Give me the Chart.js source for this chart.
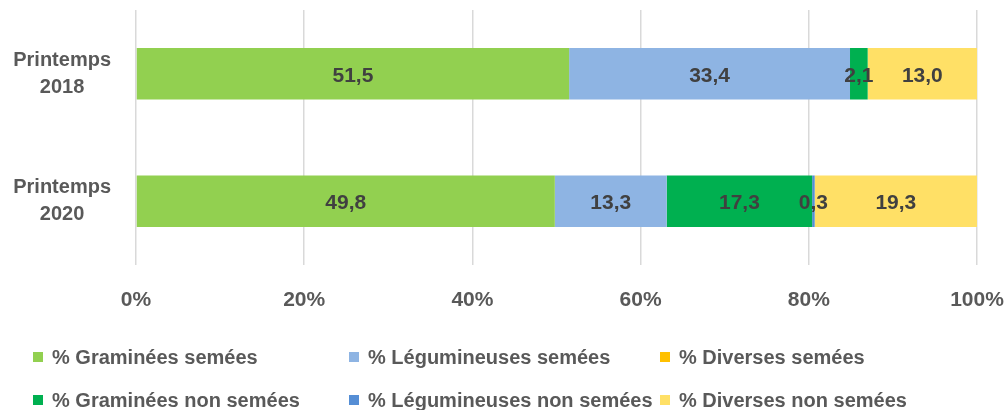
<!DOCTYPE html>
<html>
<head>
<meta charset="utf-8">
<script src="https://cdn.jsdelivr.net/npm/chart.js@4"></script>
<style>
  html, body { margin: 0; padding: 0; background: #fff; }
  #wrap { position: relative; width: 1008px; height: 410px; overflow: hidden; }
  #chartBox { position: absolute; left: 0; top: 0; width: 1008px; height: 330px; }
  #legend { position: absolute; left: 0; top: 0; width: 1008px; height: 410px; pointer-events: none;
    font-family: "Liberation Sans", Arial, sans-serif; font-weight: bold; font-size: 20px; color: #595959; }
  .li { position: absolute; white-space: nowrap; line-height: 20px; }
  .li .bx { position: absolute; width: 10px; height: 10px; top: 5px; }
  .li .tx { position: absolute; top: 0; }
</style>
</head>
<body>
<div id="wrap">
  <div id="chartBox"><canvas id="c"></canvas></div>
  <div id="legend"></div>
</div>
<script>
const categories = [["Printemps", "2018"], ["Printemps", "2020"]];
const seriesNames = [
  "% Graminées semées",
  "% Légumineuses semées",
  "% Diverses semées",
  "% Graminées non semées",
  "% Légumineuses non semées",
  "% Diverses non semées"
];
const graminesSemees = [51.5, 49.8];
const legumineusesSemees = [33.4, 13.3];
const diversesSemees = [0, 0];
const graminesNonSemees = [2.1, 17.3];
const legumineusesNonSemees = [0, 0.3];
const diversesNonSemees = [13.0, 19.3];
const tickValues = [0, 20, 40, 60, 80, 100];

const seriesValues = [graminesSemees, legumineusesSemees, diversesSemees, graminesNonSemees, legumineusesNonSemees, diversesNonSemees];
const colors = ["#92D050", "#8EB4E3", "#FFC000", "#00B050", "#558ED5", "#FFE066"];

const datasets = seriesNames.map((n, i) => ({
  label: n,
  data: seriesValues[i],
  backgroundColor: colors[i],
  borderWidth: 0,
  categoryPercentage: 1.0,
  barPercentage: 0.404
}));

const labelPlugin = {
  id: 'segLabels',
  afterDatasetsDraw(chart) {
    const ctx = chart.ctx;
    ctx.save();
    ctx.font = 'bold 21px "Liberation Sans", Arial, sans-serif';
    ctx.fillStyle = '#404040';
    ctx.textAlign = 'center';
    ctx.textBaseline = 'middle';
    chart.data.datasets.forEach((ds, di) => {
      const meta = chart.getDatasetMeta(di);
      meta.data.forEach((el, j) => {
        const v = ds.data[j];
        if (!v) return;
        const p = el.getProps(['x', 'y', 'base'], true);
        const cx = (p.x + p.base) / 2;
        ctx.fillText(v.toFixed(1).replace('.', ','), cx, p.y + 2);
      });
    });
    ctx.restore();
  }
};

new Chart(document.getElementById('c'), {
  type: 'bar',
  data: { labels: categories, datasets },
  plugins: [labelPlugin],
  options: {
    indexAxis: 'y',
    responsive: true,
    maintainAspectRatio: false,
    animation: false,
    layout: { padding: { left: 0, right: 31, top: 10, bottom: 0 } },
    plugins: { legend: { display: false }, tooltip: { enabled: false } },
    scales: {
      x: {
        stacked: true,
        min: 0, max: 100,
        afterBuildTicks(scale) { scale.ticks = tickValues.map(v => ({ value: v })); },
        afterFit(scale) { scale.height = 65; scale.paddingLeft = 0; scale.paddingRight = 0; },
        grid: { color: '#D9D9D9', lineWidth: 1.5, drawTicks: false },
        border: { display: false },
        ticks: {
          padding: 23,
          color: '#595959',
          font: { family: '"Liberation Sans", Arial, sans-serif', size: 21, weight: 'bold' },
          callback: v => v + '%'
        }
      },
      y: {
        stacked: true,
        afterFit(scale) { scale.width = 136; scale.paddingTop = 0; scale.paddingBottom = 0; },
        grid: { display: false, drawTicks: false },
        border: { display: false },
        ticks: {
          crossAlign: 'center',
          padding: 25,
          color: '#595959',
          font: { family: '"Liberation Sans", Arial, sans-serif', size: 20, weight: 'bold', lineHeight: 1.35 }
        }
      }
    }
  }
});

// legend built from series names & colours
const legendPos = [
  [33, 347], [349, 347], [660, 347],
  [33, 390], [349, 390], [660, 390]
];
const lg = document.getElementById('legend');
seriesNames.forEach((n, i) => {
  const d = document.createElement('div');
  d.className = 'li';
  d.style.left = legendPos[i][0] + 'px';
  d.style.top = legendPos[i][1] + 'px';
  const b = document.createElement('span');
  b.className = 'bx';
  b.style.left = '0px';
  b.style.background = colors[i];
  const t = document.createElement('span');
  t.className = 'tx';
  t.style.left = '19px';
  t.textContent = n;
  d.appendChild(b); d.appendChild(t);
  lg.appendChild(d);
});
</script>
</body>
</html>
